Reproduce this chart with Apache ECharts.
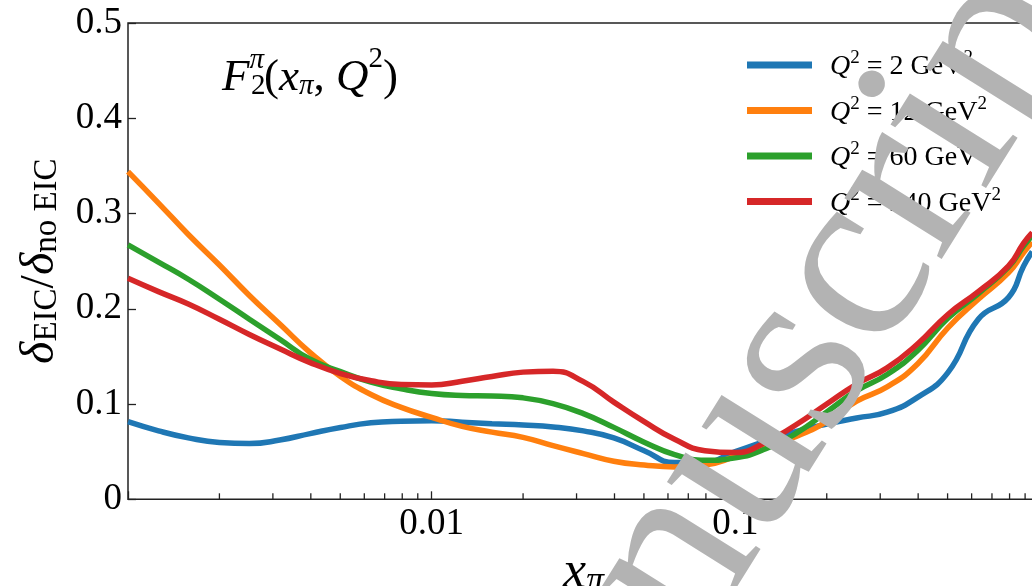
<!DOCTYPE html>
<html><head><meta charset="utf-8">
<script src="https://cdn.jsdelivr.net/npm/echarts@6/dist/echarts.min.js"></script>
<style>html,body{margin:0;padding:0;background:#fff}#c{width:1032px;height:586px}</style>
</head><body><div id="c"></div>
<script>
// x positions (x_pi), log-spaced
const xs = [0.001, 0.00126, 0.00158, 0.002, 0.00251, 0.00316, 0.00398, 0.00501, 0.00631, 0.00794,
            0.01, 0.0126, 0.0158, 0.02, 0.0251, 0.0316, 0.0398, 0.0501, 0.0631, 0.0794,
            0.1, 0.126, 0.158, 0.2, 0.251, 0.316, 0.398, 0.501, 0.631, 0.794, 0.89, 0.95];
const q2Values = ['2', '12', '60', '240'];
const q2_2   = [0.0815,0.0719,0.0645,0.0596,0.0585,0.0622,0.069,0.0754,0.0803,0.082,
                0.0825,0.081,0.0794,0.078,0.076,0.0718,0.0644,0.051,0.0385,0.039,
                0.050,0.061,0.071,0.079,0.0853,0.0915,0.107,0.133,0.189,0.212,0.245,0.26];
const q2_12  = [0.344,0.311,0.278,0.246,0.214,0.184,0.154,0.129,0.110,0.0965,
                0.086,0.0765,0.0705,0.065,0.0563,0.048,0.040,0.036,0.034,0.036,
                0.045,0.056,0.0657,0.0815,0.103,0.118,0.142,0.180,0.210,0.238,0.259,0.27];
const q2_60  = [0.267,0.249,0.231,0.210,0.189,0.168,0.147,0.134,0.123,0.116,
                0.111,0.109,0.1085,0.1065,0.1005,0.090,0.0755,0.060,0.047,0.041,
                0.0435,0.053,0.069,0.0917,0.114,0.131,0.156,0.190,0.216,0.244,0.266,0.277];
const q2_240 = [0.232,0.218,0.205,0.189,0.173,0.158,0.1435,0.132,0.1245,0.1205,
                0.120,0.124,0.129,0.1335,0.1345,0.1235,0.102,0.0815,0.063,0.051,
                0.049,0.060,0.078,0.100,0.121,0.138,0.163,0.194,0.218,0.245,0.269,0.28];
const seriesValues = [q2_2, q2_12, q2_60, q2_240];
const colors = ['#1f77b4', '#ff7f0e', '#2ca02c', '#d62728'];
const xTickLabels = { '0.01': '0.01', '0.1': '0.1' };
const xMinorTicks = [0.002,0.003,0.004,0.005,0.006,0.007,0.008,0.009,
                     0.02,0.03,0.04,0.05,0.06,0.07,0.08,0.09,
                     0.2,0.3,0.4,0.5,0.6,0.7,0.8,0.9];

const FF = '"Liberation Serif", "DejaVu Serif", serif';
const names = q2Values.map(q => 'Q² = ' + q + ' GeV²');

const chart = echarts.init(document.getElementById('c'), null, {renderer: 'canvas'});

const series = seriesValues.map((vals, i) => ({
  name: names[i], type: 'line', smooth: 0.5, showSymbol: false, symbol: 'none',
  data: xs.map((x, j) => [x, vals[j]]),
  lineStyle: { width: 5.5, color: colors[i], cap: 'butt' },
  itemStyle: { color: colors[i] },
  z: 3 + i
}));
series.push({
  type: 'custom', silent: true, z: 10,
  data: xMinorTicks.map(v => [v, 0]),
  renderItem: (params, api) => {
    const p = api.coord([api.value(0), 0]);
    return { type: 'line', shape: { x1: p[0], y1: p[1], x2: p[0], y2: p[1] - 6 },
             style: { stroke: '#222', lineWidth: 1.3 } };
  }
});

const legRich = {
  q: { fontFamily: FF, fontStyle: 'italic', fontSize: 28, lineHeight: 32, verticalAlign: 'bottom', color: '#000', padding: [0,0,0,13] },
  s: { fontFamily: FF, fontSize: 19, lineHeight: 19, verticalAlign: 'top', color: '#000' },
  t: { fontFamily: FF, fontSize: 28, lineHeight: 32, verticalAlign: 'bottom', color: '#000' }
};

chart.setOption({
  animation: false,
  backgroundColor: '#fff',
  grid: { left: 128, top: 23, width: 911, height: 476.3, show: true, borderColor: '#222', borderWidth: 1.5,
          containLabel: false, outerBoundsMode: 'none' },
  xAxis: {
    type: 'log', logBase: 10, min: 0.001, max: 1,
    axisLine: { show: false },
    axisTick: { show: true, inside: true, length: 8, lineStyle: { color: '#222', width: 1.3 } },
    splitLine: { show: false },
    axisLabel: {
      margin: 6, fontFamily: FF, fontSize: 37, color: '#000',
      formatter: v => { const k = Math.round(Math.log10(v) * 1000) / 1000; return k === -2 ? xTickLabels['0.01'] : (k === -1 ? xTickLabels['0.1'] : ''); }
    },
    name: '{i|x}{s|π}', nameLocation: 'middle', nameGap: 30,
    nameTextStyle: { rich: {
      i: { fontFamily: FF, fontStyle: 'italic', fontSize: 52, lineHeight: 52, verticalAlign: 'top', color: '#000' },
      s: { fontFamily: FF, fontStyle: 'italic', fontSize: 36, lineHeight: 36, verticalAlign: 'bottom', color: '#000' }
    } }
  },
  yAxis: {
    type: 'value', min: 0, max: 0.5, interval: 0.1,
    axisLine: { show: false },
    axisTick: { show: true, inside: true, length: 8, lineStyle: { color: '#222', width: 1.3 } },
    splitLine: { show: false },
    axisLabel: { margin: 6, fontFamily: FF, fontSize: 37, color: '#000' },
    name: '{i|δ}{s|EIC}{r|/}{i|δ}{s|no EIC}', nameLocation: 'middle', nameRotate: 90, nameGap: 64,
    nameTextStyle: { rich: {
      i: { fontFamily: FF, fontStyle: 'italic', fontSize: 48, lineHeight: 48, verticalAlign: 'top', color: '#000' },
      r: { fontFamily: FF, fontSize: 48, lineHeight: 48, verticalAlign: 'top', color: '#000' },
      s: { fontFamily: FF, fontSize: 33, lineHeight: 36, verticalAlign: 'bottom', color: '#000' }
    } }
  },
  legend: {
    orient: 'vertical', left: 742, top: 44, itemWidth: 65, itemHeight: 7, itemGap: 13.5,
    icon: 'rect', data: names,
    formatter: name => { const q = q2Values[names.indexOf(name)]; return '{q|Q}{s|2}{t| = ' + q + ' GeV}{s|2}'; },
    textStyle: { rich: legRich }
  },
  graphic: [
    { type: 'text', left: 222, top: 41, z: 50, silent: true,
      style: { text: '{i|F}{sp|π}{r|(}{i|x}{sb|π}{r|, }{i|Q}{sp2|2}{r|)}',
        rich: {
          i: { fontFamily: FF, fontStyle: 'italic', fontSize: 45, lineHeight: 60, verticalAlign: 'bottom', fill: '#000' },
          r: { fontFamily: FF, fontSize: 45, lineHeight: 60, verticalAlign: 'bottom', fill: '#000' },
          sp: { fontFamily: FF, fontStyle: 'italic', fontSize: 29, lineHeight: 29, verticalAlign: 'top', padding: [5,0,0,0], fill: '#000' },
          sp2: { fontFamily: FF, fontSize: 29, lineHeight: 29, verticalAlign: 'top', padding: [4,0,0,0], fill: '#000' },
          sb: { fontFamily: FF, fontStyle: 'italic', fontSize: 29, lineHeight: 29, verticalAlign: 'bottom', fill: '#000' }
        } } },
    { type: 'text', x: 251, y: 101, z: 50, silent: true,
      style: { text: '2', fontFamily: FF, fontSize: 29, fill: '#000', verticalAlign: 'bottom', textVerticalAlign: 'bottom' } },
    { type: 'text', x: 773, y: 405, rotation: 58 * Math.PI / 180, z: 100, silent: true,
      style: { text: 'manuscript', fontFamily: FF, fontSize: 250, fill: '#b3b3b3',
               align: 'center', textAlign: 'center', verticalAlign: 'middle', textVerticalAlign: 'middle', blend: 'multiply' } }
  ],
  series: series
});
</script>
</body></html>
